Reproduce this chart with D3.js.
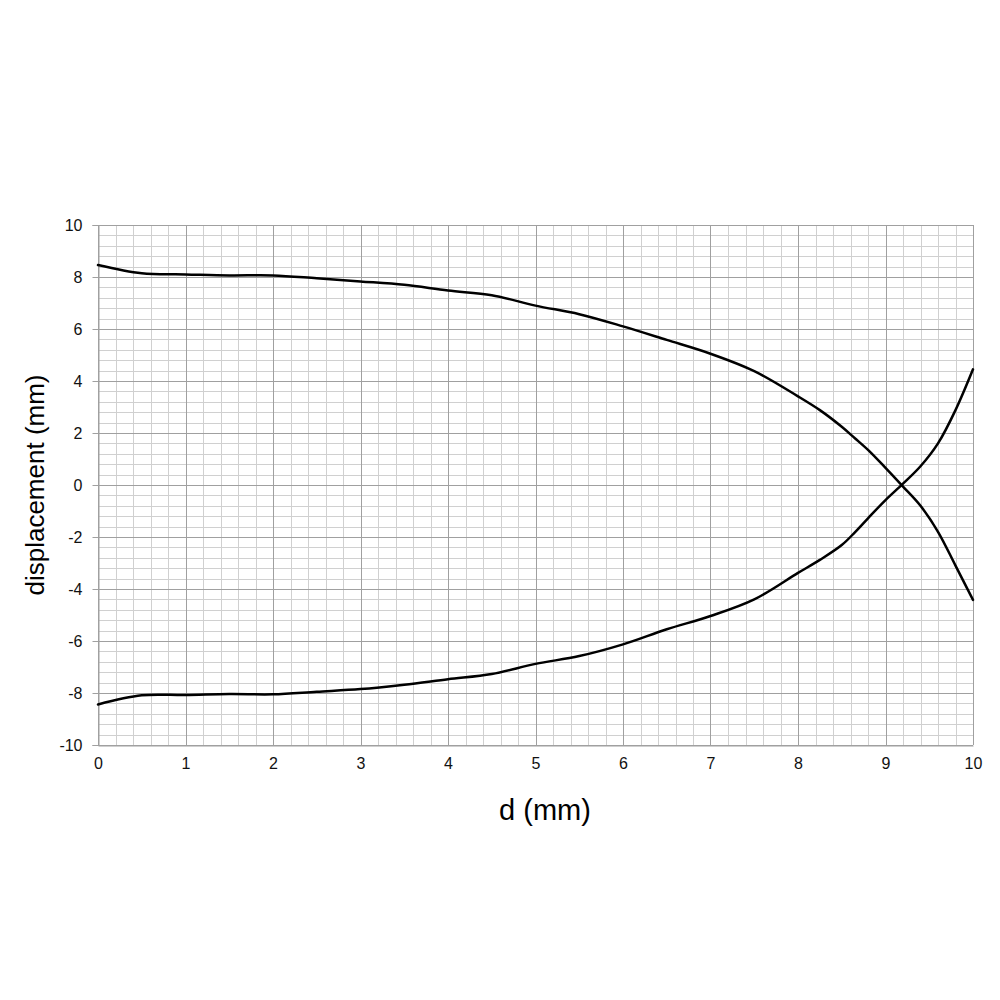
<!DOCTYPE html>
<html>
<head>
<meta charset="utf-8">
<script src="https://cdn.jsdelivr.net/npm/d3@7"></script>
<style>
  html, body { margin: 0; padding: 0; background: #fff; }
  svg { display: block; overflow: hidden; }
</style>
</head>
<body>
<script>
// ---- data ----
const dValues = [0, 0.5, 1, 1.5, 2, 2.5, 3, 3.5, 4, 4.5, 5, 5.5, 6, 6.5, 7, 7.5, 8, 8.25, 8.5, 8.65, 8.8, 9, 9.2, 9.4, 9.6, 9.8, 10];
const upperSeries = [8.46, 8.14, 8.10, 8.06, 8.06, 7.95, 7.83, 7.70, 7.48, 7.30, 6.90, 6.57, 6.10, 5.58, 5.05, 4.38, 3.41, 2.88, 2.24, 1.80, 1.35, 0.66, -0.06, -0.80, -1.80, -3.10, -4.42];
const lowerSeries = [-8.44, -8.09, -8.08, -8.04, -8.05, -7.95, -7.85, -7.68, -7.47, -7.27, -6.88, -6.58, -6.13, -5.55, -5.04, -4.40, -3.38, -2.88, -2.31, -1.82, -1.28, -0.58, 0.05, 0.72, 1.60, 2.88, 4.45];
const xTickLabels = [0, 1, 2, 3, 4, 5, 6, 7, 8, 9, 10];
const yTickLabels = [-10, -8, -6, -4, -2, 0, 2, 4, 6, 8, 10];
const xTitle = "d (mm)";
const yTitle = "displacement (mm)";

// ---- layout ----
const W = 984, H = 1000;
const mLeft = 98, mRight = 973, mTop = 225, mBottom = 745;
const FONT = "Liberation Sans, Arial, sans-serif";

const svg = d3.select("body").append("svg").attr("width", W).attr("height", H);

const x = d3.scaleLinear().domain([0, 10]).range([mLeft, mRight]);
const y = d3.scaleLinear().domain([-10, 10]).range([mBottom, mTop]);

const minorX = d3.range(0, 10.0001, 0.2);
const minorY = d3.range(-10, 10.0001, 0.4);

const grid = svg.append("g");
// minor grid
grid.selectAll(".mx").data(minorX).join("line")
  .attr("x1", d => Math.round(x(d)) + 0.5).attr("x2", d => Math.round(x(d)) + 0.5)
  .attr("y1", mTop).attr("y2", mBottom)
  .attr("stroke", "#d0d0d0").attr("stroke-width", 1);
grid.selectAll(".my").data(minorY).join("line")
  .attr("y1", d => Math.round(y(d)) + 0.5).attr("y2", d => Math.round(y(d)) + 0.5)
  .attr("x1", mLeft).attr("x2", mRight)
  .attr("stroke", "#d0d0d0").attr("stroke-width", 1);
// major grid
grid.selectAll(".Mx").data(xTickLabels).join("line")
  .attr("x1", d => Math.round(x(d)) + 0.5).attr("x2", d => Math.round(x(d)) + 0.5)
  .attr("y1", mTop).attr("y2", mBottom)
  .attr("stroke", "#a0a0a0").attr("stroke-width", 1);
grid.selectAll(".My").data(yTickLabels).join("line")
  .attr("y1", d => Math.round(y(d)) + 0.5).attr("y2", d => Math.round(y(d)) + 0.5)
  .attr("x1", mLeft).attr("x2", mRight)
  .attr("stroke", "#a0a0a0").attr("stroke-width", 1);

// y axis
const yAxis = d3.axisLeft(y).tickValues(yTickLabels).tickSize(6).tickPadding(10).tickFormat(d => String(d));
const yg = svg.append("g").attr("transform", `translate(${mLeft + 0.5},0)`).call(yAxis);
yg.select(".domain").attr("stroke", "#a0a0a0");
yg.selectAll(".tick line").attr("stroke", "#a0a0a0");
yg.selectAll(".tick text").attr("font-family", FONT).attr("font-size", 16).attr("fill", "#111");

// x axis
const xAxis = d3.axisBottom(x).tickValues(xTickLabels).tickSize(0).tickPadding(12).tickFormat(d => String(d));
const xg = svg.append("g").attr("transform", `translate(0,${mBottom + 0.5})`).call(xAxis);
xg.select(".domain").attr("stroke", "#a0a0a0");
xg.selectAll(".tick text").attr("font-family", FONT).attr("font-size", 16).attr("fill", "#111");

// curves
const line = d3.line().x((d, i) => x(dValues[i])).y(d => y(d)).curve(d3.curveCatmullRom.alpha(0.5));
[upperSeries, lowerSeries].forEach(s => {
  svg.append("path").datum(s).attr("d", line)
    .attr("fill", "none").attr("stroke", "#000").attr("stroke-width", 2.5)
    .attr("stroke-linejoin", "round").attr("stroke-linecap", "round");
});

// titles
svg.append("text").attr("x", 545).attr("y", 820).attr("text-anchor", "middle")
  .attr("font-family", FONT).attr("font-size", 29).attr("fill", "#000")
  .text(xTitle);
svg.append("text").attr("transform", `translate(44,485) rotate(-90)`).attr("text-anchor", "middle")
  .attr("font-family", FONT).attr("font-size", 26).attr("fill", "#000")
  .text(yTitle);
</script>
</body>
</html>
